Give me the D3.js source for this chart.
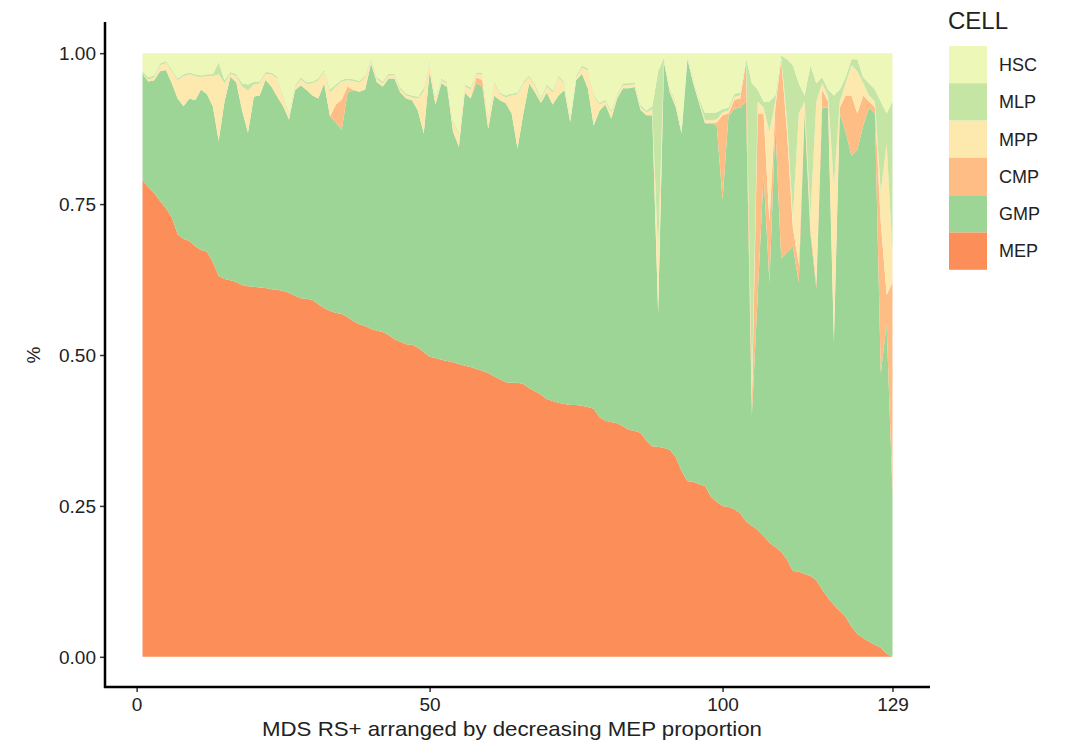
<!DOCTYPE html>
<html>
<head>
<meta charset="utf-8">
<style>
  body { margin: 0; background: #fff; }
  svg text { font-family: "Liberation Sans", Arial, sans-serif; }
  .tick text { fill: #222; font-size: 19px; }
</style>
</head>
<body>
<svg id="chart" width="1066" height="743"></svg>
<script src="https://cdn.jsdelivr.net/npm/d3@7/dist/d3.min.js"></script>
<script>
// sample order 1..129 (arranged by decreasing MEP proportion)
var cells = ["HSC", "MLP", "MPP", "CMP", "GMP", "MEP"];
var colours = ["#ecf7b8", "#c4e5a4", "#fde8ad", "#fdbd85", "#9cd595", "#fc8e59"];
var xTicks = [0, 50, 100, 129];
var yTicks = [0, 0.25, 0.5, 0.75, 1];

var MEP = [0.790,0.778,0.768,0.755,0.743,0.728,0.700,0.692,0.689,0.680,0.674,0.671,0.654,0.631,0.626,0.624,0.621,0.616,0.614,0.613,
  0.612,0.611,0.609,0.608,0.606,0.603,0.598,0.594,0.593,0.591,0.584,0.578,0.573,0.570,0.568,0.563,0.556,0.551,0.548,0.543,
  0.540,0.538,0.533,0.526,0.522,0.518,0.517,0.512,0.505,0.497,0.495,0.492,0.490,0.488,0.485,0.482,0.480,0.477,0.474,0.470,
  0.465,0.460,0.455,0.454,0.454,0.452,0.445,0.440,0.434,0.427,0.424,0.421,0.419,0.417,0.417,0.416,0.414,0.411,0.397,0.391,
  0.389,0.387,0.382,0.376,0.374,0.371,0.358,0.349,0.348,0.346,0.343,0.331,0.308,0.291,0.290,0.286,0.283,0.265,0.257,0.250,
  0.248,0.245,0.238,0.224,0.217,0.210,0.200,0.189,0.182,0.174,0.161,0.142,0.141,0.137,0.134,0.127,0.111,0.098,0.086,0.076,
  0.066,0.050,0.038,0.031,0.025,0.020,0.015,0.005,0.000];
var GMP = [0.176,0.175,0.187,0.215,0.229,0.222,0.225,0.220,0.236,0.242,0.266,0.261,0.258,0.224,0.294,0.337,0.331,0.289,0.254,0.315,
  0.318,0.345,0.336,0.320,0.306,0.287,0.340,0.353,0.346,0.339,0.341,0.372,0.322,0.315,0.305,0.372,0.383,0.385,0.392,0.440,
  0.412,0.407,0.425,0.432,0.413,0.407,0.405,0.393,0.362,0.473,0.420,0.458,0.454,0.382,0.360,0.453,0.445,0.473,0.471,0.405,
  0.465,0.462,0.462,0.446,0.388,0.448,0.505,0.495,0.484,0.508,0.491,0.509,0.520,0.469,0.538,0.550,0.528,0.469,0.508,0.524,
  0.503,0.538,0.560,0.566,0.570,0.535,0.539,0.548,0.222,0.639,0.592,0.580,0.559,0.699,0.660,0.631,0.601,0.619,0.623,0.507,
  0.647,0.663,0.672,0.696,0.183,0.390,0.600,0.431,0.698,0.486,0.509,0.538,0.479,0.763,0.566,0.483,0.799,0.812,0.434,0.824,
  0.804,0.780,0.802,0.849,0.885,0.880,0.455,0.545,0.270];
var CMP = [0,0,0,0,0,0,0,0,0,0,0,0,0,0,0,0,0,0,0,0,
  0,0,0,0,0,0,0,0,0,0,0,0,0,0.030,0.050,0.010,0,0,0,0,
  0,0,0,0,0,0,0,0,0,0,0,0,0,0,0,0,0,0.010,0.010,0,
  0,0,0,0,0,0,0,0,0,0,0,0,0,0,0,0,0,0,0,0,
  0,0,0,0,0,0,0,0,0,0,0,0,0,0,0,0,0,0,0.005,0.140,
  0.005,0.015,0.015,0.065,0.020,0.300,0.100,0.100,0.030,0.330,0.200,0.030,0.030,0.010,0.010,0.010,0.030,0.010,0.010,0.010,
  0.060,0.100,0.060,0.050,0.010,0.010,0.250,0.050,0.350];
var MPP = [0,0.003,0.005,0.010,0.012,0.020,0.030,0.050,0.040,0.040,0.020,0.030,0.050,0.110,0.030,0.005,0.010,0.040,0.070,0.020,
  0.020,0.010,0.020,0.030,0.015,0.010,0.005,0.010,0.010,0.020,0.030,0.020,0.040,0.030,0.030,0.010,0.015,0.015,0.020,0.005,
  0.005,0.005,0.005,0.005,0.005,0.005,0.005,0.020,0.070,0.015,0.010,0.005,0.005,0.015,0.020,0.010,0.015,0.005,0.010,0.020,
  0.020,0.010,0.010,0.030,0.090,0.050,0.010,0.010,0.005,0.010,0.020,0.030,0.010,0.010,0.005,0.010,0.030,0.050,0.010,0.005,
  0.010,0.005,0.005,0.005,0.005,0.005,0.005,0.010,0.100,0.005,0.005,0.005,0.005,0.003,0.005,0.005,0.005,0.005,0.005,0.005,
  0.005,0.005,0.005,0.005,0.030,0.020,0.010,0.150,0.010,0.003,0.020,0.020,0.250,0.010,0.020,0.300,0.010,0.010,0.250,0.010,
  0.020,0.050,0.070,0.020,0.010,0.010,0.050,0.250,0.050];
var MLP = [0.004,0.004,0.003,0.003,0.003,0.003,0.003,0.003,0.003,0.003,0.003,0.003,0.003,0.020,0.005,0.003,0.003,0.005,0.010,0.005,
  0.003,0.003,0.003,0.003,0.003,0.003,0.003,0.003,0.003,0.003,0.003,0.003,0.005,0.003,0.003,0.003,0.003,0.003,0.003,0.003,
  0.003,0.003,0.003,0.003,0.003,0.003,0.003,0.003,0.005,0.003,0.003,0.003,0.003,0.003,0.003,0.003,0.003,0.003,0.003,0.003,
  0.003,0.003,0.003,0.003,0.003,0.003,0.003,0.003,0.003,0.003,0.003,0.003,0.003,0.003,0.003,0.003,0.003,0.003,0.003,0.003,
  0.003,0.003,0.003,0.003,0.003,0.003,0.003,0.005,0.300,0.003,0.003,0.003,0.003,0.003,0.003,0.003,0.012,0.012,0.012,0.005,
  0.005,0.005,0.005,0.003,0.500,0.020,0.010,0.050,0.010,0.003,0.100,0.250,0.050,0.010,0.250,0.030,0.010,0.010,0.150,0.020,
  0.010,0.010,0.020,0.010,0.020,0.020,0.150,0.050,0.250];
var HSC = [0.030,0.040,0.037,0.017,0.013,0.027,0.042,0.035,0.032,0.035,0.037,0.035,0.035,0.015,0.045,0.031,0.035,0.050,0.052,0.047,
  0.047,0.031,0.032,0.039,0.070,0.097,0.054,0.040,0.048,0.047,0.042,0.027,0.060,0.052,0.044,0.042,0.043,0.046,0.037,0.009,
  0.040,0.047,0.034,0.034,0.057,0.067,0.070,0.072,0.058,0.012,0.072,0.042,0.048,0.112,0.132,0.052,0.057,0.032,0.032,0.102,
  0.047,0.065,0.070,0.067,0.065,0.047,0.037,0.052,0.074,0.052,0.062,0.037,0.048,0.101,0.037,0.021,0.025,0.067,0.082,0.077,
  0.095,0.067,0.050,0.050,0.048,0.086,0.095,0.088,0.030,0.007,0.057,0.081,0.125,0.004,0.042,0.075,0.099,0.099,0.098,0.093,
  0.090,0.067,0.065,0.007,0.050,0.060,0.080,0.080,0.070,0.004,0.010,0.020,0.050,0.070,0.020,0.050,0.040,0.060,0.070,0.060,
  0.040,0.010,0.010,0.040,0.050,0.060,0.080,0.100,0.080];

var series = { HSC: HSC, MLP: MLP, MPP: MPP, CMP: CMP, GMP: GMP, MEP: MEP };
var rows = MEP.map(function (d, i) {
  var r = { sample: i + 1 };
  cells.forEach(function (c) { r[c] = series[c][i]; });
  return r;
});

var svg = d3.select("#chart");
var pLeft = 105, pRight = 930, pTop = 23, pBottom = 687;

var n = rows.length;
var padX = (n - 1) * 0.05;
var x = d3.scaleLinear().domain([1 - padX, n + padX]).range([pLeft, pRight]);
var y = d3.scaleLinear().domain([-0.05, 1.05]).range([pBottom, pTop]);
var colour = d3.scaleOrdinal().domain(cells).range(colours);

var stack = d3.stack()
  .keys(cells.slice().reverse())   // MEP at the bottom, HSC on top
  .offset(d3.stackOffsetExpand);
var layers = stack(rows);

var area = d3.area()
  .x(function (d) { return x(d.data.sample); })
  .y0(function (d) { return y(d[0]); })
  .y1(function (d) { return y(d[1]); });

svg.append("g").selectAll("path")
  .data(layers)
  .enter().append("path")
    .attr("d", area)
    .attr("fill", function (d) { return colour(d.key); });

// axes
var xAxis = svg.append("g")
  .attr("transform", "translate(0," + pBottom + ")")
  .call(d3.axisBottom(x).tickValues(xTicks).tickSize(5).tickPadding(3).tickFormat(d3.format("d")));
var yAxis = svg.append("g")
  .attr("transform", "translate(" + pLeft + ",0)")
  .call(d3.axisLeft(y).tickValues(yTicks).tickSize(5).tickPadding(4).tickFormat(d3.format(".2f")));
[xAxis, yAxis].forEach(function (a) {
  a.select(".domain").remove();
  a.selectAll(".tick line").attr("stroke", "#333").attr("stroke-width", 1.5);
});
xAxis.selectAll("text").attr("dy", "0.85em");
yAxis.selectAll("text").attr("dy", "0.35em");

svg.append("line").attr("x1", pLeft).attr("x2", pLeft).attr("y1", pTop - 1).attr("y2", pBottom + 1)
  .attr("stroke", "#000").attr("stroke-width", 2.5);
svg.append("line").attr("x1", pLeft - 1).attr("x2", pRight).attr("y1", pBottom).attr("y2", pBottom)
  .attr("stroke", "#000").attr("stroke-width", 2.5);

svg.append("text")
  .attr("x", 512).attr("y", 736)
  .attr("text-anchor", "middle").attr("font-size", 21).attr("fill", "#222")
  .attr("textLength", 500).attr("lengthAdjust", "spacingAndGlyphs")
  .text("MDS RS+  arranged by decreasing MEP proportion");
svg.append("text")
  .attr("transform", "translate(40," + y(0.5) + ") rotate(-90)")
  .attr("text-anchor", "middle").attr("font-size", 19).attr("fill", "#222")
  .text("%");

// legend
var legend = svg.append("g").attr("transform", "translate(949,0)");
legend.append("text").attr("x", -1).attr("y", 29).attr("font-size", 24).attr("fill", "#222").text("CELL");
var keyH = 37.3;
var item = legend.selectAll(".key").data(cells).enter().append("g")
  .attr("transform", function (d, i) { return "translate(0," + (46 + i * keyH) + ")"; });
item.append("rect").attr("width", 38).attr("height", keyH).attr("fill", function (d) { return colour(d); });
item.append("text").attr("x", 50).attr("y", keyH / 2).attr("dy", "0.35em")
  .attr("font-size", 18).attr("fill", "#222").text(function (d) { return d; });
</script>
</body>
</html>
